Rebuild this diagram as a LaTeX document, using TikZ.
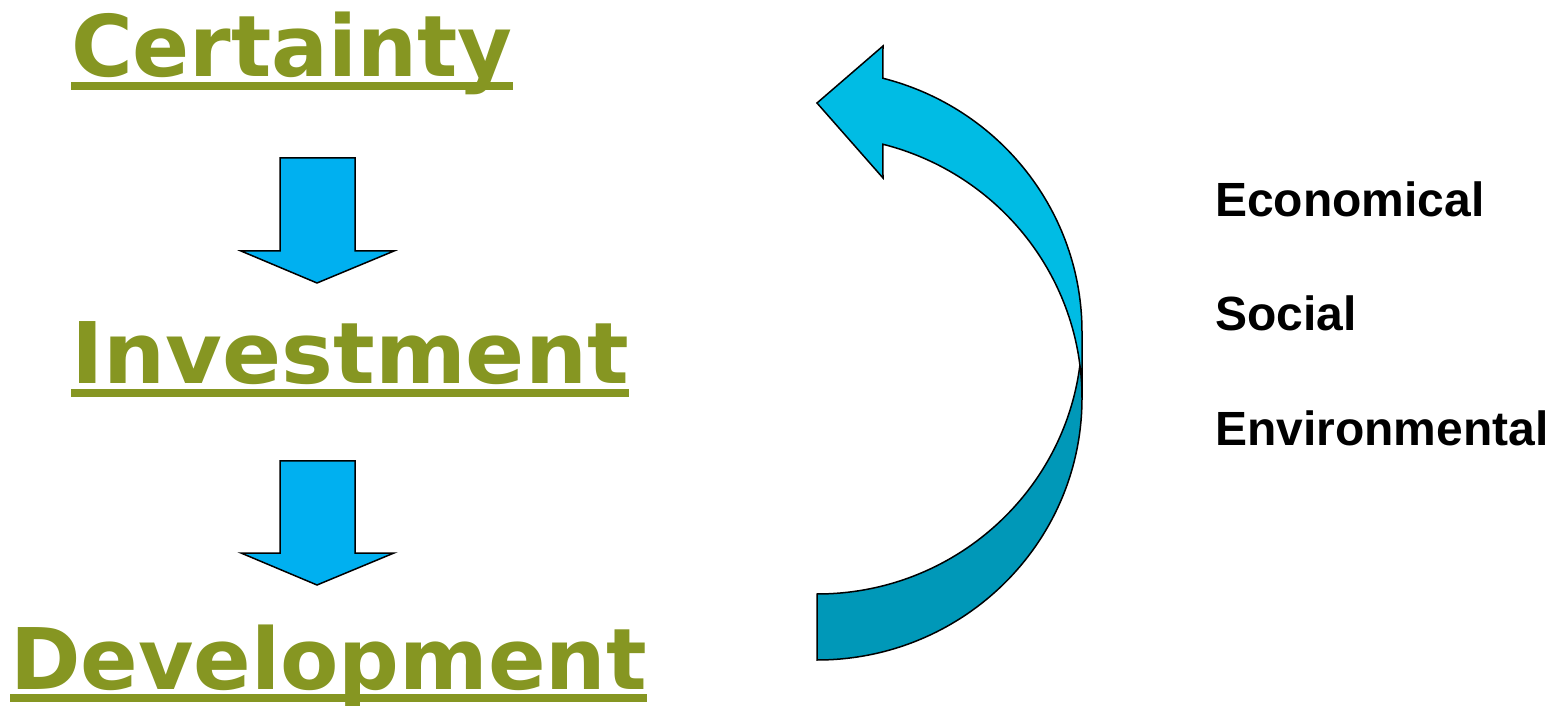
\documentclass[tikz,border=0pt]{standalone}
\usepackage{fontspec}
\usetikzlibrary{calc}
\newfontfamily\headfont[BoldFont={DejaVu Sans Bold}]{DejaVu Sans}
\newfontfamily\listfont[BoldFont={Liberation Sans Bold}]{Liberation Sans}
\definecolor{olive}{RGB}{134,150,34}
\definecolor{flowblue}{RGB}{0,176,240}
\definecolor{loopfront}{RGB}{0,188,228}
\definecolor{loopback}{RGB}{0,152,184}
\begin{document}
\begin{tikzpicture}[x=1pt,y=1pt,
  headword/.style={anchor=base west,inner sep=0pt,outer sep=0pt,text=olive,
    font=\headfont\bfseries\fontsize{85}{90}\selectfont,transform shape},
  listword/.style={anchor=base west,inner sep=0pt,outer sep=0pt,text=black,
    font=\listfont\bfseries\fontsize{48}{52}\selectfont},
  blockarrow/.style={fill=flowblue,draw=black,line width=1.5pt,line join=miter},
  band/.style={draw=black,line width=1.5pt,line join=miter}]
\useasboundingbox (0,0) rectangle (1564,705);

% stage words
\node[headword,xscale=0.991] (cert) at (71,628) {Certainty};
\node[headword,xscale=1.026] (inv)  at (71,321) {Investment};
\node[headword] (dev)  at (10,16)  {Development};
\foreach \w in {cert,inv,dev}
  \fill[olive] ($(\w.base west)+(0,-5)$) rectangle ($(\w.base east)+(0,-13)$);

% block arrows between the stages
\draw[blockarrow] (280,547) -- (355,547) -- (355,454) -- (394,454) -- (317,422)
  -- (241,454) -- (280,454) -- cycle;
\draw[blockarrow] (280,244) -- (355,244) -- (355,152) -- (394,152) -- (317,120)
  -- (241,152) -- (280,152) -- cycle;

% curved feedback arrow: back band first, front band with head on top
\coordinate (cA) at (817,373);
\coordinate (cB) at (817,307);
\draw[band,fill=loopback] ($(cA)+(0:265pt and 262pt)$)
  arc[start angle=0,end angle=-90,x radius=265pt,y radius=262pt]
  -- ($(cB)+(-90:265pt and 262pt)$)
  arc[start angle=-90,end angle=0,x radius=265pt,y radius=262pt] -- cycle;
\draw[band,fill=loopfront] ($(cA)+(75.6:265pt and 262pt)$)
  arc[start angle=75.6,end angle=0,x radius=265pt,y radius=262pt]
  -- ($(cB)+(0:265pt and 262pt)$)
  arc[start angle=0,end angle=75.6,x radius=265pt,y radius=262pt]
  -- (883,527) -- (817,602) -- (883,659) -- cycle;

% dimensions
\node[listword] (eco) at (1215,488) {Economical};
\node[listword] (soc) at (1215,374) {Social};
\node[listword] (env) at (1215,259) {Environmental};
\end{tikzpicture}
\end{document}
